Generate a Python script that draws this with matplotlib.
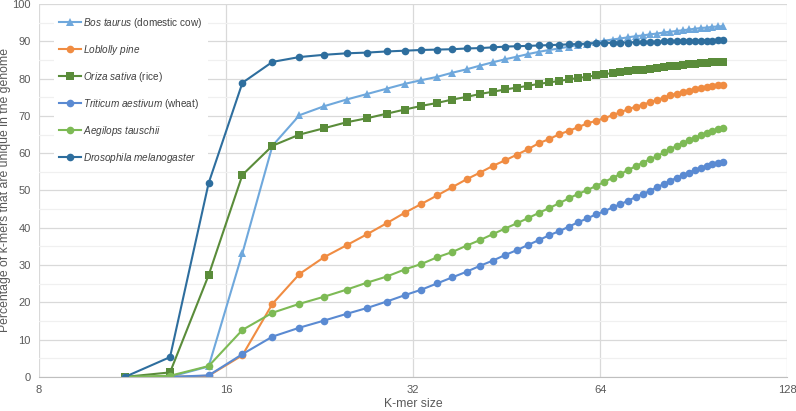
import matplotlib
matplotlib.use("Agg")
import matplotlib.pyplot as plt
from matplotlib.ticker import FixedLocator, FixedFormatter, MultipleLocator

plt.rcParams['font.family'] = ['Liberation Sans', 'DejaVu Sans']
plt.rcParams['mathtext.fontset'] = 'custom'
plt.rcParams['mathtext.it'] = 'Liberation Sans:italic'
plt.rcParams['mathtext.rm'] = 'Liberation Sans'

# k-mer sizes (odd, 11..101)
kmer = [11, 13, 15, 17, 19, 21, 23, 25, 27, 29, 31,
        33, 35, 37, 39, 41, 43, 45, 47, 49, 51, 53, 55, 57, 59, 61, 63, 65,
        67, 69, 71, 73, 75, 77, 79, 81, 83, 85, 87, 89, 91, 93, 95, 97, 99, 101]

bos = [0, 0, 2.8, 33.2, 62.0, 70.2, 72.6, 74.4, 75.9, 77.3, 78.6,
       79.6, 80.5, 81.6, 82.5, 83.5, 84.4, 85.2, 85.9, 86.6, 87.2, 87.7, 88.1, 88.6, 89.0, 89.4, 89.8, 90.2,
       90.5, 90.8, 91.1, 91.4, 91.6, 91.9, 92.1, 92.4, 92.6, 92.8, 93.0, 93.2, 93.4, 93.6, 93.7, 93.9, 94.0, 94.1]
pine = [0, 0, 0.3, 5.8, 19.6, 27.6, 32.1, 35.3, 38.3, 41.2, 44.0,
        46.4, 48.7, 50.9, 53.0, 54.8, 56.6, 58.1, 59.6, 61.1, 62.7, 63.8, 65.1, 66.0, 67.0, 68.0, 68.7, 69.4,
        70.2, 71.0, 71.8, 72.5, 73.0, 73.7, 74.3, 74.9, 75.5, 76.0, 76.4, 76.8, 77.1, 77.5, 77.8, 78.1, 78.3, 78.4]
rice = [0, 1.2, 27.3, 54.2, 62.0, 65.0, 66.7, 68.3, 69.4, 70.6, 71.7,
        72.7, 73.5, 74.4, 75.1, 75.9, 76.5, 77.1, 77.6, 78.1, 78.6, 79.0, 79.4, 79.8, 80.2, 80.5, 80.9, 81.2,
        81.5, 81.7, 82.0, 82.2, 82.4, 82.7, 82.9, 83.1, 83.3, 83.5, 83.7, 83.8, 84.0, 84.1, 84.3, 84.4, 84.5, 84.6]
wheat = [0, 0, 0.4, 6.1, 10.8, 13.2, 15.1, 16.9, 18.5, 20.2, 21.9,
         23.4, 25.1, 26.7, 28.2, 29.8, 31.2, 32.7, 34.0, 35.4, 36.7, 38.0, 39.1, 40.3, 41.5, 42.5, 43.6, 44.4,
         45.5, 46.3, 47.3, 48.2, 49.1, 49.9, 50.9, 51.7, 52.6, 53.4, 54.1, 54.8, 55.5, 56.1, 56.6, 57.0, 57.3, 57.6]
aegilops = [0, 0.3, 2.9, 12.6, 17.2, 19.6, 21.5, 23.4, 25.3, 26.9, 28.8,
            30.3, 32.1, 33.5, 35.2, 36.7, 38.3, 39.8, 41.2, 42.6, 44.0, 45.3, 46.6, 47.9, 49.1, 50.1, 51.2, 52.3,
            53.4, 54.4, 55.5, 56.5, 57.5, 58.4, 59.2, 60.2, 61.1, 62.0, 62.8, 63.5, 64.2, 64.8, 65.5, 66.0, 66.4, 66.8]
droso = [0, 5.3, 52.0, 78.9, 84.5, 85.8, 86.4, 86.8, 87.0, 87.3, 87.5,
         87.7, 87.8, 87.9, 88.1, 88.2, 88.4, 88.6, 88.7, 88.8, 88.9, 89.0, 89.1, 89.2, 89.3, 89.4, 89.5, 89.6,
         89.6, 89.7, 89.7, 89.8, 89.8, 89.9, 89.9, 90.0, 90.0, 90.0, 90.1, 90.1, 90.1, 90.2, 90.2, 90.2, 90.3, 90.3]

series = [
    (bos, r'$\mathit{Bos\ taurus}$ (domestic cow)', '#6FA8DC', '^'),
    (pine, r'$\mathit{Loblolly\ pine}$', '#F08C42', 'o'),
    (rice, r'$\mathit{Oriza\ sativa}$ (rice)', '#5A8C3A', 's'),
    (wheat, r'$\mathit{Triticum\ aestivum}$ (wheat)', '#5A8AD2', 'o'),
    (aegilops, r'$\mathit{Aegilops\ tauschii}$', '#7DBA55', 'o'),
    (droso, r'$\mathit{Drosophila\ melanogaster}$', '#2E6E9E', 'o'),
]

fig = plt.figure(figsize=(7.96, 4.11), dpi=100)
ax = fig.add_axes([0.049, 0.083, 0.940, 0.907])

for vals, lab, col, mk in series:
    ax.plot(kmer, vals, color=col, marker=mk, markersize=5.5, linewidth=1.5,
            label=lab, markeredgewidth=0)

ax.set_xscale('log', base=2)
ax.set_xlim(8, 128)
ax.set_ylim(0, 100)
xt = [8, 16, 32, 64, 128]
ax.xaxis.set_major_locator(FixedLocator(xt))
ax.xaxis.set_major_formatter(FixedFormatter([str(t) for t in xt]))
ax.xaxis.set_minor_locator(FixedLocator([]))
ax.yaxis.set_major_locator(MultipleLocator(10))
ax.yaxis.set_minor_locator(MultipleLocator(5))

ax.grid(which='major', color='#D9D9D9', linewidth=0.9)
ax.grid(which='minor', axis='y', color='#F0F0F0', linewidth=0.9)
ax.set_axisbelow(True)
for s in ['top', 'right', 'left']:
    ax.spines[s].set_visible(False)
ax.spines['bottom'].set_color('#BFBFBF')
ax.tick_params(which='both', length=0, labelsize=8, colors='#595959', pad=6)

ax.set_xlabel('K-mer size', fontsize=8.8, color='#595959')
ax.xaxis.set_label_coords(0.5, -0.057)
ax.set_ylabel('Percentage of k-mers that are unique in the genome', fontsize=8.8,
              color='#595959')
ax.yaxis.set_label_coords(-0.037, 0.5)

leg = ax.legend(loc='upper left', bbox_to_anchor=(0.014, 0.995), fontsize=7.2,
                frameon=True, handlelength=2.2, labelspacing=1.3,
                handletextpad=0.2, borderpad=0.5)
leg.get_frame().set_facecolor('white')
leg.get_frame().set_edgecolor('none')
leg.get_frame().set_alpha(1)
for t in leg.get_texts():
    t.set_color('#404040')

fig.savefig('out.png', dpi=100)
